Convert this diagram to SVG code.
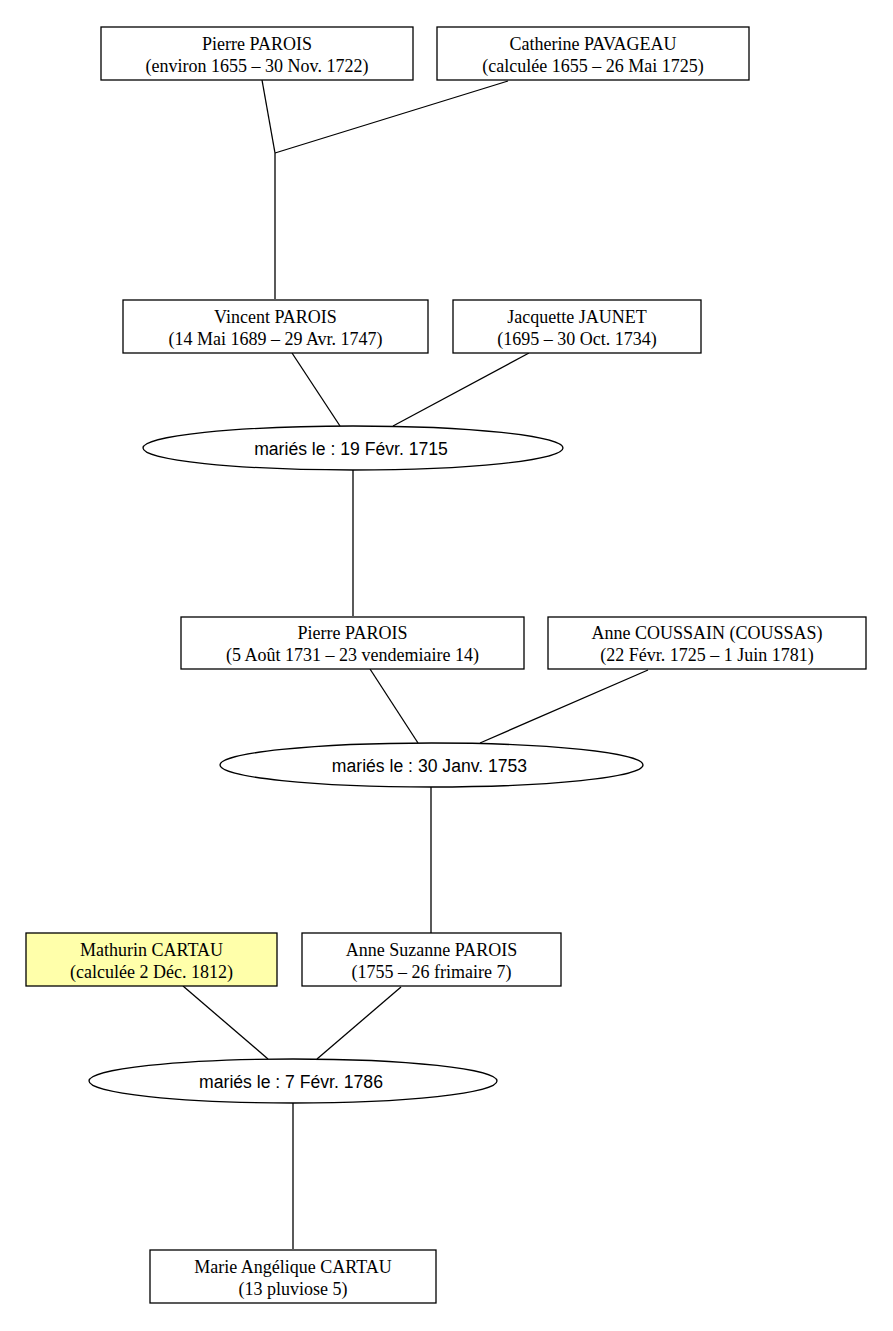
<svg xmlns="http://www.w3.org/2000/svg" width="893" height="1331" viewBox="0 0 893 1331">
<style>
.box{fill:#ffffff;stroke:#000;stroke-width:1.3}
.hl{fill:#ffffaa}
.ell{fill:#ffffff;stroke:#000;stroke-width:1.3}
.t{font-family:"Liberation Serif","Times New Roman",serif;font-size:18px;text-anchor:middle;fill:#000}
.m{font-family:"Liberation Sans",Arial,sans-serif;font-size:17.6px;text-anchor:middle;fill:#000}
.e{stroke:#000;stroke-width:1.3;fill:none}
</style>
<rect width="893" height="1331" fill="#fff"/>
<g id="connectors">
<path class="e" d="M262,80 L275,153"/>
<path class="e" d="M508,81 L275,153"/>
<path class="e" d="M275,153 L275,228"/>
<path class="e" d="M275,228 L275,299"/>
<path class="e" d="M292,353 L340,426"/>
<path class="e" d="M529,353 L393,426"/>
<path class="e" d="M353,470 L353,543"/>
<path class="e" d="M353,543 L353,616"/>
<path class="e" d="M370,669 L418,743"/>
<path class="e" d="M648,670 L480,743"/>
<path class="e" d="M431,787 L431,860"/>
<path class="e" d="M431,860 L431,933"/>
<path class="e" d="M183,986 L268,1059"/>
<path class="e" d="M401,987 L317,1059"/>
<path class="e" d="M293,1103 L293,1176"/>
<path class="e" d="M293,1176 L293,1249"/>
</g>
<g id="pierre1">
<rect class="box" x="101" y="27" width="312" height="53"/>
<text class="t" x="257" y="50">Pierre PAROIS</text>
<text class="t" x="257" y="72">(environ 1655 – 30 Nov. 1722)</text>
</g>
<g id="catherine">
<rect class="box" x="437" y="27" width="312" height="53"/>
<text class="t" x="593" y="50">Catherine PAVAGEAU</text>
<text class="t" x="593" y="72">(calculée 1655 – 26 Mai 1725)</text>
</g>
<g id="vincent">
<rect class="box" x="123" y="300" width="305" height="53"/>
<text class="t" x="275.5" y="323">Vincent PAROIS</text>
<text class="t" x="275.5" y="345">(14 Mai 1689 – 29 Avr. 1747)</text>
</g>
<g id="jacquette">
<rect class="box" x="453" y="300" width="248" height="53"/>
<text class="t" x="577" y="323">Jacquette JAUNET</text>
<text class="t" x="577" y="345">(1695 – 30 Oct. 1734)</text>
</g>
<g id="mariage1">
<ellipse class="ell" cx="353" cy="448" rx="210" ry="22"/>
<text class="m" x="351" y="454.5">mariés le : 19 Févr. 1715</text>
</g>
<g id="pierre2">
<rect class="box" x="181" y="617" width="343" height="52"/>
<text class="t" x="352.5" y="639">Pierre PAROIS</text>
<text class="t" x="352.5" y="661">(5 Août 1731 – 23 vendemiaire 14)</text>
</g>
<g id="anne">
<rect class="box" x="548" y="617" width="318" height="52"/>
<text class="t" x="707" y="639">Anne COUSSAIN (COUSSAS)</text>
<text class="t" x="707" y="661">(22 Févr. 1725 – 1 Juin 1781)</text>
</g>
<g id="mariage2">
<ellipse class="ell" cx="431.5" cy="765" rx="211.5" ry="22"/>
<text class="m" x="429.5" y="771.5">mariés le : 30 Janv. 1753</text>
</g>
<g id="mathurin">
<rect class="box hl" x="26" y="933" width="251" height="53"/>
<text class="t" x="151.5" y="956">Mathurin CARTAU</text>
<text class="t" x="151.5" y="978">(calculée 2 Déc. 1812)</text>
</g>
<g id="annesuzanne">
<rect class="box" x="302" y="933" width="259" height="53"/>
<text class="t" x="431.5" y="956">Anne Suzanne PAROIS</text>
<text class="t" x="431.5" y="978">(1755 – 26 frimaire 7)</text>
</g>
<g id="mariage3">
<ellipse class="ell" cx="293" cy="1081" rx="204" ry="22"/>
<text class="m" x="291" y="1087.5">mariés le : 7 Févr. 1786</text>
</g>
<g id="marie">
<rect class="box" x="150" y="1250" width="286" height="53"/>
<text class="t" x="293" y="1273">Marie Angélique CARTAU</text>
<text class="t" x="293" y="1295">(13 pluviose 5)</text>
</g>
</svg>
